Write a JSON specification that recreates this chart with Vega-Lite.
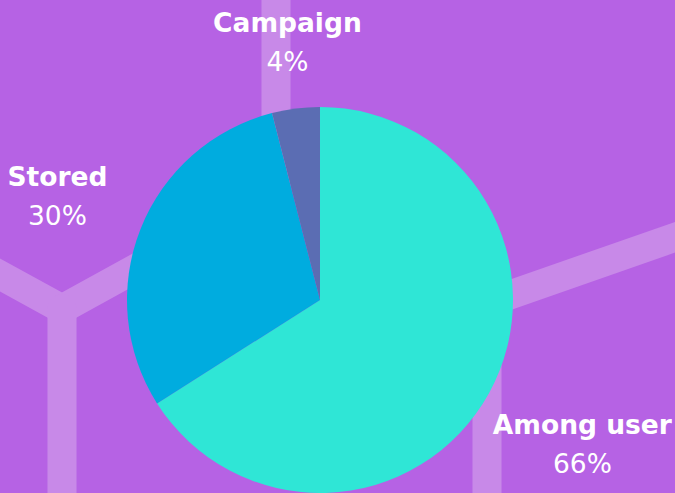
{
  "$schema": "https://vega.github.io/schema/vega-lite/v6.json",
  "width": 640,
  "height": 386,
  "autosize": {"type": "none"},
  "padding": {"left": 0, "top": 107, "right": 35, "bottom": 0},
  "background": "#b662e4",
  "config": {"view": {"stroke": null}},
  "data": {
    "values": [
      {"name": "Among user", "share": 0.66, "idx": 1},
      {"name": "Stored", "share": 0.30, "idx": 2},
      {"name": "Campaign", "share": 0.04, "idx": 3}
    ]
  },
  "layer": [
    {
      "data": {
        "values": [
          {"seg": "top", "xa": 276, "ya": -30, "xb": 276, "yb": 200},
          {"seg": "left-upper", "xa": -30, "ya": 258.5, "xb": 62, "yb": 309},
          {"seg": "left-arm", "xa": 62, "ya": 309, "xb": 200, "yb": 233},
          {"seg": "left-stem", "xa": 62, "ya": 309, "xb": 62, "yb": 530},
          {"seg": "right-diag", "xa": 487, "ya": 303, "xb": 710, "yb": 225},
          {"seg": "right-stem", "xa": 487, "ya": 303, "xb": 487, "yb": 530}
        ]
      },
      "mark": {"type": "rule", "strokeWidth": 29, "color": "#c889e8", "strokeCap": "round", "clip": false},
      "encoding": {
        "x": {"field": "xa", "type": "quantitative", "scale": {"domain": [0, 640], "nice": false, "zero": false}, "axis": null},
        "y": {"field": "ya", "type": "quantitative", "scale": {"domain": [107, 493], "reverse": true, "nice": false, "zero": false}, "axis": null},
        "x2": {"field": "xb"},
        "y2": {"field": "yb"}
      }
    },
    {
      "mark": {"type": "arc", "outerRadius": 193, "stroke": null},
      "encoding": {
        "theta": {"field": "share", "type": "quantitative", "stack": true},
        "order": {"field": "idx", "type": "quantitative"},
        "color": {
          "field": "name",
          "type": "nominal",
          "scale": {"domain": ["Among user", "Stored", "Campaign"], "range": ["#2fe6d6", "#00acdf", "#5b6db3"]},
          "legend": null
        }
      }
    },
    {
      "mark": {"type": "text", "font": "DejaVu Sans", "fontWeight": "bold", "fontSize": 26.5, "color": "#ffffff", "align": "center", "baseline": "alphabetic", "dy": -10},
      "encoding": {
        "theta": {"field": "share", "type": "quantitative", "stack": true},
        "order": {"field": "idx", "type": "quantitative"},
        "radius": {"field": "share", "type": "quantitative", "scale": {"type": "sqrt", "domain": [0.04, 0.66], "range": [260, 299.4], "zero": false}},
        "text": {"field": "name", "type": "nominal"}
      }
    },
    {
      "mark": {"type": "text", "font": "DejaVu Sans", "fontWeight": "normal", "fontSize": 26.5, "color": "#ffffff", "align": "center", "baseline": "alphabetic", "dy": 29},
      "encoding": {
        "theta": {"field": "share", "type": "quantitative", "stack": true},
        "order": {"field": "idx", "type": "quantitative"},
        "radius": {"field": "share", "type": "quantitative", "scale": {"type": "sqrt", "domain": [0.04, 0.66], "range": [260, 299.4], "zero": false}},
        "text": {"field": "share", "type": "quantitative", "format": ".0%"}
      }
    }
  ]
}
